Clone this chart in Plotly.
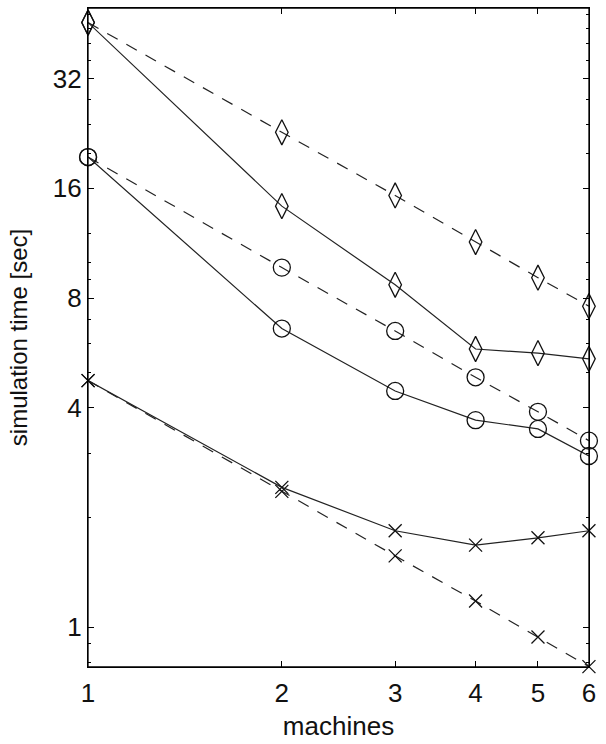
import math
import plotly.graph_objects as go

machines = [1, 2, 3, 4, 5, 6]

# simulation time [sec]
diamond_dashed = [45.6, 22.8, 15.3, 11.4, 9.1, 7.6]
diamond_solid = [45.6, 14.3, 8.7, 5.8, 5.65, 5.45]
circle_dashed = [19.5, 9.7, 6.5, 4.85, 3.9, 3.25]
circle_solid = [19.5, 6.6, 4.45, 3.7, 3.5, 2.95]
cross_dashed = [4.75, 2.36, 1.57, 1.18, 0.94, 0.78]
cross_solid = [4.75, 2.42, 1.84, 1.68, 1.76, 1.84]

xticks = [1, 2, 3, 4, 5, 6]
yticks = [1, 4, 8, 16, 32]
yminor = [0.8, 0.9, 2, 3, 5, 6, 7, 9, 10, 12, 20, 24, 28, 36, 40, 44, 48]

series = [
    (diamond_dashed, "diamond-tall-open", 18, "12px,10px"),
    (diamond_solid, "diamond-tall-open", 18, "solid"),
    (circle_dashed, "circle-open", 17, "12px,10px"),
    (circle_solid, "circle-open", 17, "solid"),
    (cross_dashed, "x-thin-open", 13, "12px,10px"),
    (cross_solid, "x-thin-open", 13, "solid"),
]

xrange_ = [-0.0001, math.log10(6) + 0.0001]
yrange_ = [math.log10(0.778), math.log10(50)]

fig = go.Figure()
for ys, sym, size, dash in series:
    fig.add_trace(go.Scatter(
        x=machines, y=ys, mode="lines+markers",
        line=dict(color="#222", width=1.2, dash=dash),
        marker=dict(symbol=sym, size=size, color="#111",
                    line=dict(color="#111", width=1.3)),
        showlegend=False, cliponaxis=False,
    ))
# empty trace so the top/right tick axes get drawn
fig.add_trace(go.Scatter(x=[], y=[], xaxis="x2", yaxis="y2", showlegend=False))

axis_common = dict(
    type="log", showgrid=False, zeroline=False, automargin=False,
    showline=True, linecolor="black", linewidth=1.3,
    ticks="inside", ticklen=6, tickcolor="black", tickwidth=1,
    tickfont=dict(family="Liberation Sans, Arial", size=26, color="#111"),
)
yminor_d = dict(tickmode="array", tickvals=yminor, ticks="inside",
                ticklen=3, tickcolor="black")

fig.update_layout(
    width=606, height=744,
    margin=dict(l=88, r=17, t=8, b=77),
    paper_bgcolor="white", plot_bgcolor="white",
    font=dict(family="Liberation Sans, Arial", color="#111"),
    xaxis=dict(
        axis_common, range=xrange_, ticklabelstandoff=3,
        tickmode="array", tickvals=xticks, ticktext=[str(v) for v in xticks],
        title=dict(text="machines", font=dict(size=26), standoff=9),
    ),
    yaxis=dict(
        axis_common, range=yrange_,
        tickmode="array", tickvals=yticks, ticktext=[str(v) for v in yticks],
        minor=yminor_d,
        title=dict(text="simulation time [sec]", font=dict(size=24), standoff=18),
    ),
    xaxis2=dict(
        axis_common, range=xrange_, overlaying="x", side="top", anchor="y2",
        tickmode="array", tickvals=xticks, showticklabels=False,
    ),
    yaxis2=dict(
        axis_common, range=yrange_, overlaying="y", side="right", anchor="x2",
        tickmode="array", tickvals=yticks, showticklabels=False,
        minor=yminor_d,
    ),
)

# box round the plot area
fig.add_shape(type="rect", xref="paper", yref="paper", x0=0, y0=0, x1=1, y1=1,
              line=dict(color="black", width=1.3), layer="above")

# page body has an 8px default margin; drop it so the figure fills the window
fig.write_html("out.html",
               config={"displayModeBar": False},
               post_script="document.body.style.margin='0';"
                           "document.body.style.overflow='hidden';")
